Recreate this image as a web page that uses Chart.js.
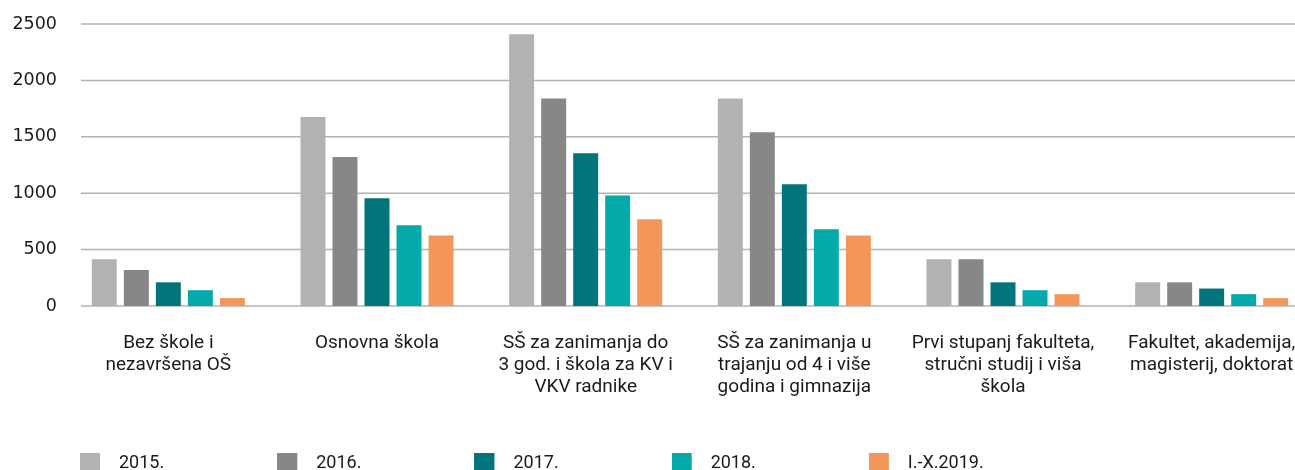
<!DOCTYPE html>
<html>
<head>
<meta charset="utf-8">
<script src="https://cdn.jsdelivr.net/npm/chart.js@4.4.1/dist/chart.umd.min.js"></script>
<style>
  html, body { margin: 0; padding: 0; background: #ffffff; overflow: hidden; width: 1295px; height: 470px; }
  #wrap { position: absolute; left: -33px; top: 0; width: 1349px; height: 482px; }
  canvas { display: block; }
</style>
</head>
<body>
<div id="wrap"><canvas id="c" width="1349" height="482"></canvas></div>
<script>
const categories = [
  ["Bez škole i", "nezavršena OŠ"],
  "Osnovna škola",
  ["SŠ za zanimanja do", "3 god. i škola za KV i", "VKV radnike"],
  ["SŠ za zanimanja u", "trajanju od 4 i više", "godina i gimnazija"],
  ["Prvi stupanj fakulteta,", "stručni studij i viša", "škola"],
  ["Fakultet, akademija,", "magisterij, doktorat"]
];
const seriesNames = ["2015.", "2016.", "2017.", "2018.", "I.-X.2019."];
const values2015 = [415, 1675, 2410, 1840, 415, 210];
const values2016 = [320, 1320, 1840, 1540, 415, 210];
const values2017 = [210, 955, 1355, 1080, 210, 155];
const values2018 = [140, 715, 980, 680, 140, 105];
const values2019 = [70, 625, 770, 625, 105, 70];
const yTickValues = [0, 500, 1000, 1500, 2000, 2500];
const seriesColors = ["#b2b2b2", "#878787", "#02747c", "#03aaa9", "#f39759"];

const allValues = [values2015, values2016, values2017, values2018, values2019];

function swatch(color) {
  const c = document.createElement('canvas');
  c.width = 30; c.height = 20;
  const g = c.getContext('2d');
  g.fillStyle = color;
  g.fillRect(0, 0, 20, 20);
  return c;
}
const swatches = seriesColors.map(swatch);

const gridPlugin = {
  id: 'hgrid',
  afterLayout(chart) {
    // let the multi-line category labels draw below the short axis band
    chart.scales.x.bottom = chart.height;
  },
  beforeDatasetsDraw(chart) {
    const { ctx, chartArea, scales } = chart;
    const y = scales.y;
    ctx.save();
    ctx.strokeStyle = '#b3b3b3';
    ctx.lineWidth = 1.5;
    y.ticks.forEach(t => {
      const py = y.getPixelForValue(t.value);
      ctx.beginPath();
      ctx.moveTo(chartArea.left + 17, py);
      ctx.lineTo(chartArea.right, py);
      ctx.stroke();
    });
    ctx.restore();
  }
};

new Chart(document.getElementById('c'), {
  type: 'bar',
  data: {
    labels: categories,
    datasets: allValues.map((vals, i) => ({
      label: seriesNames[i],
      data: vals,
      backgroundColor: seriesColors[i],
      borderWidth: 0,
      categoryPercentage: 0.767,
      barPercentage: 0.78
    }))
  },
  options: {
    responsive: false,
    animation: false,
    events: [],
    layout: { padding: { top: 24, left: 0, right: 0, bottom: 0 } },
    plugins: {
      tooltip: { enabled: false },
      legend: {
        display: true,
        position: 'bottom',
        align: 'start',
        labels: {
          usePointStyle: true,
          pointStyleWidth: 30,
          padding: 113,
          color: '#1a1a1a',
          font: { family: 'Roboto', size: 18 },
          generateLabels(chart) {
            const items = Chart.defaults.plugins.legend.labels.generateLabels(chart);
            items.forEach((it, i) => { it.pointStyle = swatches[i]; });
            return items;
          }
        }
      }
    },
    scales: {
      x: {
        grid: { display: false, drawTicks: false },
        border: { display: false },
        ticks: {
          autoSkip: false,
          maxRotation: 0,
          minRotation: 0,
          padding: 26,
          color: '#1a1a1a',
          font: { family: 'Roboto', size: 19, lineHeight: 1.17 }
        },
        afterFit(s) { s.height = 35; s.paddingLeft = 0; s.paddingRight = 0; }
      },
      y: {
        min: 0,
        max: 2500,
        afterBuildTicks(s) { s.ticks = yTickValues.map(v => ({ value: v })); },
        grid: { display: false, drawTicks: false },
        border: { display: false },
        ticks: {
          padding: 7,
          color: '#1a1a1a',
          font: { family: 'DejaVu Sans', size: 17.5 },
          callback: (v) => String(v)
        },
        afterFit(s) { s.width = 97; }
      }
    }
  },
  plugins: [gridPlugin]
});
</script>
</body>
</html>
